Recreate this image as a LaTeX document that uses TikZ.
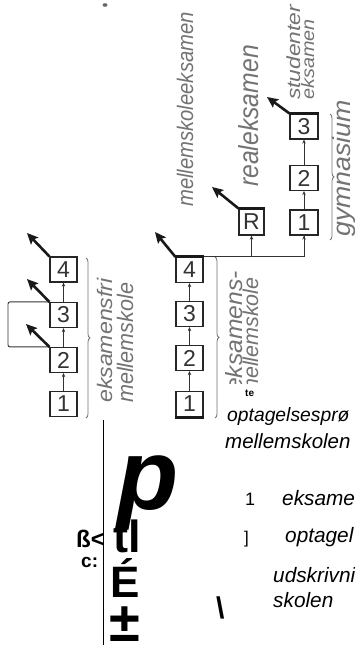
\documentclass[tikz,border=0pt]{standalone}
\usepackage{fontspec}
\usepackage{graphicx}
\setmainfont{Liberation Sans}
\usetikzlibrary{arrows.meta,decorations.pathreplacing}
\newcommand\sct[3]{\fontsize{#1}{#1}\selectfont\itshape\scalebox{#2}[1]{#3}}
\tikzset{
  numbox/.style={draw=black!85, line width=1.2pt, minimum width=27pt, minimum height=25pt, inner sep=0pt,
    font=\fontsize{23}{23}\selectfont, text=black!80},
  bigarrow/.style={line width=2.6pt, draw=black!90, -{Stealth[length=11pt,width=10pt,inset=2pt]}},
  smallarrow/.style={line width=0.7pt, draw=black!80, -{Stealth[length=4pt,width=3.5pt]}},
  thickedge/.style={line width=3pt, draw=black!90},
  thinline/.style={line width=0.9pt, draw=black!80},
  scantext/.style={rotate=90, anchor=base west, inner sep=0pt, text=black!55},
  bracestyle/.style={decorate, decoration={brace, amplitude=4pt}, draw=black!55, line width=0.8pt},
  ocr/.style={inner sep=0pt, anchor=base west, text=black},
}
\begin{document}
\begin{tikzpicture}[x=1pt,y=1pt]
\useasboundingbox (0,0) rectangle (355,-645);
\fill[white] (0,0) rectangle (355,-645);
% small smudge
\fill[black!60] (105,-5) ellipse (2.5pt and 1.8pt);

% ---- column A: eksamensfri mellemskole
\node[numbox] (A4) at (63.5,-269.5) {4};
\node[numbox] (A3) at (63.5,-315) {3};
\node[numbox] (A2) at (63.5,-360) {2};
\node[numbox] (A1) at (63.5,-404) {1};
\draw[smallarrow] (A1.north) -- (A2.south);
\draw[smallarrow] (A2.north) -- (A3.south);
\draw[smallarrow] (A3.north) -- (A4.south);
\coordinate (loopL) at (8,-330);
\draw[thinline, rounded corners=2pt] (A3.north west) -- (A3.north west -| loopL) -- (A2.north west -| loopL) -- (A2.north west);
\coordinate (tA4) at (27,-233);
\coordinate (tA3) at (27,-279);
\coordinate (tA2) at (26,-324);
\draw[bigarrow] (A4.north west) -- (tA4);
\draw[bigarrow] (A3.north west) -- (tA3);
\draw[bigarrow] (A2.north west) -- (tA2);
\coordinate (bAt) at (86,-258);
\coordinate (bAb) at (86,-418);
\draw[bracestyle] (bAt) -- (bAb);
\node[scantext] (tEfri) at (112,-403) {\sct{21}{1.1}{eksamensfri}};
\node[scantext] (tMelA) at (133,-403) {\sct{22.5}{0.96}{mellemskole}};

% ---- column B: eksamensmellemskole
\node[numbox] (B4) at (189.5,-270) {4};
\node[numbox] (B3) at (189.5,-314) {3};
\node[numbox] (B2) at (189.5,-358) {2};
\node[numbox] (B1) at (189.5,-404) {1};
\draw[smallarrow] (B1.north) -- (B2.south);
\draw[smallarrow] (B2.north) -- (B3.south);
\draw[smallarrow] (B3.north) -- (B4.south);
\draw[thickedge] (B4.north west) -- (B4.north east);
\draw[thickedge] (B1.south west) -- (B1.south east);
\coordinate (tB4) at (155,-232);
\draw[bigarrow] (B4.north west) -- (tB4);
\coordinate (bBt) at (215,-257);
\coordinate (bBb) at (215,-418);
\draw[bracestyle] (bBt) -- (bBb);
\node[scantext] (tMelEks) at (193,-207) {\sct{22.5}{0.9}{mellemskoleeksamen}};

% ---- R and gymnasium
\node[numbox, minimum width=25pt, minimum height=26pt] (R) at (251.5,-222) {R};
\node[numbox, minimum width=28pt] (G1) at (304,-222.5) {1};
\node[numbox, minimum width=28pt] (G2) at (304,-178) {2};
\node[numbox, minimum width=28pt] (G3) at (304,-126.5) {3};
\draw[smallarrow] (G1.north) -- (G2.south);
\draw[smallarrow] (G2.north) -- (G3.south);
\draw[thinline] (B4.north east) -| (G1.south);
\draw[smallarrow] (G1.south) ++(0,-7) -- (G1.south);
\draw[smallarrow] (B4.north east -| R.south) -- (R.south);
\draw[thickedge] (R.north west) -- (R.north east);
\draw[thickedge] (G3.north west) -- (G3.north east);
\coordinate (tR) at (212,-187);
\coordinate (tG3) at (267,-97);
\draw[bigarrow] (R.north west) -- (tR);
\draw[bigarrow] (G3.north west) -- (tG3);
\coordinate (bGt) at (330,-114);
\coordinate (bGb) at (330,-240);
\draw[bracestyle] (bGt) -- (bGb);
\node[scantext] (tReal) at (258,-187) {\sct{27.5}{0.9}{realeksamen}};
\node[scantext] (tStud) at (300,-100) {\sct{19}{1.2}{studenter}};
\node[scantext] (tEks) at (314,-100) {\sct{18}{1.1}{eksamen}};
\node[scantext] (tGym) at (350,-237) {\sct{25}{1.07}{gymnasium}};
\begin{scope}
\clip (0,0) rectangle (355,-383);
\node[scantext] (tEksB) at (242,-392) {\sct{23.5}{1.05}{eksamens-}};
\node[scantext] (tMelB) at (258,-397) {\sct{21.5}{1.0}{mellemskole}};
\end{scope}

% ---- overlaid text layer
\coordinate (vtop) at (103,-420);
\coordinate (vbot) at (103,-645);
\draw[line width=0.9pt] (vtop) -- (vbot);
\node[ocr, font=\fontsize{10}{10}\selectfont\bfseries] (te) at (245,-396) {te};
\node[ocr, font=\fontsize{19.3}{19.3}\selectfont\itshape] (opt1) at (227,-421) {optagelsesprø};
\node[ocr, font=\fontsize{20.5}{20.5}\selectfont\itshape] (mel) at (225,-448) {mellemskolen};
\node[ocr, font=\fontsize{18}{18}\selectfont] (one) at (245,-505) {1};
\node[ocr, font=\fontsize{20.8}{20.8}\selectfont\itshape] (eks) at (282,-505) {eksame};
\node[ocr, font=\fontsize{17}{17}\selectfont] (brk) at (244,-543) {]};
\node[ocr, font=\fontsize{20.8}{20.8}\selectfont\itshape] (optl) at (285,-542) {optagel};
\node[ocr, font=\fontsize{20.8}{20.8}\selectfont\itshape] (udsk) at (273,-582) {udskrivni};
\node[ocr, font=\fontsize{20.8}{20.8}\selectfont\itshape] (skol) at (273,-607) {skolen};
\node[ocr, font=\fontsize{30}{30}\selectfont\bfseries] (bsl) at (216,-618) {\textbackslash};
\node[ocr, font=\fontsize{100}{100}\selectfont\bfseries\itshape] (bigp) at (117,-509) {p};
\node[ocr, font=\fontsize{45}{45}\selectfont\bfseries] (tl) at (113,-552) {tl};
\node[ocr, font=\fontsize{44}{44}\selectfont\bfseries] (eac) at (110,-597) {É};
\node[ocr, font=\fontsize{56}{56}\selectfont\bfseries, text depth=0pt] (pm) at (109,-641) {±};
\node[ocr, font=\fontsize{24}{24}\selectfont\bfseries] (ssl) at (76,-547) {ß<};
\node[ocr, font=\fontsize{19}{19}\selectfont\bfseries] (cc) at (81,-567) {c:};
\end{tikzpicture}
\end{document}
